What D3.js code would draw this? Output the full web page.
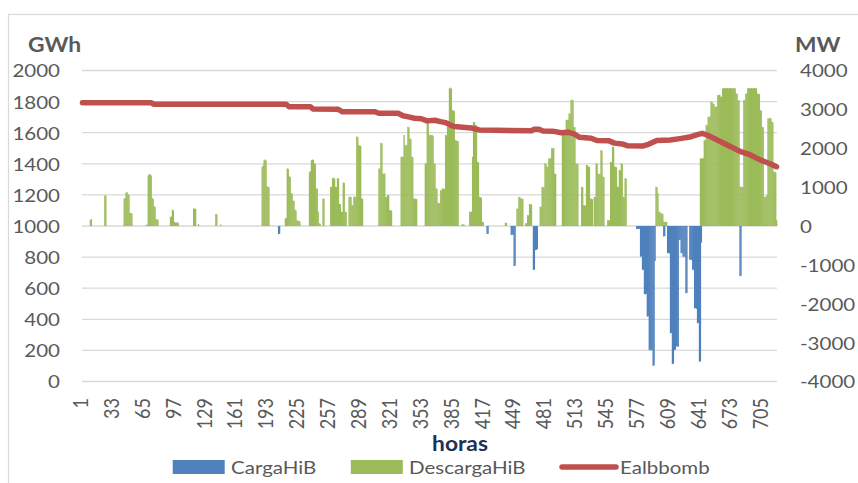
<!DOCTYPE html>
<html>
<head>
<meta charset="utf-8">
<script src="https://cdn.jsdelivr.net/npm/d3@7/dist/d3.min.js"></script>
<style>
  html, body { margin: 0; padding: 0; background: #fff; }
  svg { display: block; font-family: Lato, "Open Sans", sans-serif; }
</style>
</head>
<body>
<script>
// ---- Data -------------------------------------------------------------
// Hourly discharge of hydro pumping (MW), as runs: [first hour, [values for consecutive hours]]
const descargaHiB = [
  [9, [150, 180]],
  [24, [790, 780]],
  [44, [700, 720, 860, 870, 820, 790, 340, 330, 320]],
  [67, [30, 30, 1300, 1330, 1330, 1300, 720, 700, 520, 490, 180, 170, 160]],
  [92, [230, 250, 420, 400, 100, 90, 90, 90, 80]],
  [116, [450, 450, 440]],
  [121, [50]],
  [139, [310, 300]],
  [144, [40]],
  [187, [1520, 1560, 1690, 1710, 1680, 1020, 1010, 1000]],
  [211, [190, 210, 1480, 1470, 1280, 1260, 850, 830, 660, 640, 420, 400, 150, 140, 130, 120]],
  [236, [1390, 1410, 1690, 1710, 1700, 1610, 1600, 970, 960, 370, 70, 60]],
  [250, [710, 700]],
  [258, [1010, 1000, 1230, 1240, 1220, 1010, 1000, 1230, 1220, 565, 560, 370, 360, 1115, 1110, 370, 360]],
  [277, [750, 740, 750, 540, 530, 750, 760, 740, 2300, 2290, 2080, 2070, 2060, 710, 700]],
  [308, [1480, 1470, 2140, 2130, 1350, 1340, 1350, 750, 740, 800, 790, 410, 400, 400]],
  [331, [1780, 1770, 1790, 2340, 2080, 2070, 2090, 2550, 2540, 2250, 2240, 1780, 1770, 710, 700, 700, 690]],
  [356, [1610, 1600, 2680, 2670, 2340, 2350, 2330, 2340, 2320, 1610, 1600, 970, 960, 600, 590, 580,
         925, 920, 970, 960, 950, 2340, 2330, 2550, 2540, 3540, 3560, 3530, 2980, 2970, 2960,
         2210, 2200, 2190, 2180]],
  [394, [40, 40, 40]],
  [402, [370, 360, 370, 1780, 2680, 2670, 2600, 2590, 1650, 1640, 750, 740, 730, 110, 100]],
  [439, [85, 80]],
  [451, [450, 440, 750, 740, 710, 700, 700]],
  [460, [70, 70, 280, 270, 565, 560, 550]],
  [475, [500, 490, 1010, 1000, 990, 1610, 1600, 1530, 1520, 1740, 1730, 1750, 2000, 1990, 2010, 1350, 1340]],
  [498, [2380, 2370, 2390, 2380, 2730, 2720, 2740, 2900, 2890, 3240, 3250, 3230, 2550, 2540, 1610, 1600, 1590]],
  [518, [1010, 1000, 540, 530, 520, 1570, 1560, 1530, 1520, 710, 700, 690]],
  [531, [750, 740, 1610, 1600, 1350, 1340, 1330, 1950, 1940, 1270, 1260]],
  [545, [150, 150, 140, 1650, 1640, 2040, 2030, 1530, 1520, 1510, 1010, 1000, 1440, 1430, 1610, 1600, 750, 740, 1230, 1220]],
  [595, [1010, 1000, 840, 370, 360, 325, 320, 310, 110, 100, 110, 100]],
  [641, [1740, 1730, 1750, 1740, 2210, 2200, 2600, 2590, 2810, 2800, 2820, 3200, 3190, 3150, 3140,
         3070, 3060, 3080, 3370, 3360, 3380, 3330, 3320,
         3540, 3540, 3550, 3540, 3540, 3550, 3540, 3540, 3550, 3540, 3540, 3550, 3540, 3540,
         3410, 3400, 3240, 3230, 1010, 1000, 1010, 1000, 3240, 3230, 3410, 3400,
         3540, 3550, 3540, 3540, 3550, 3540, 3540, 3550, 3540, 3540,
         3410, 3400, 3390, 2980, 2970, 2550, 2540, 750, 740, 760, 800,
         2770, 2760, 2780, 2770, 2680, 2670, 1400, 1390, 1380, 150]]
];

// Hourly charge of hydro pumping (MW, negative), same run layout
const cargaHiB = [
  [204, [-210, -200]],
  [420, [-205, -200]],
  [445, [-230, -220, -230, -1030, -1020]],
  [468, [-1130, -1120, -620, -610, -600]],
  [575, [-80, -70, -80, -70, -790, -780, -1130, -1120, -1750, -1760, -1740, -2330, -2320,
         -3190, -3180, -3200, -3190, -3600, -3580, -900]],
  [603, [-270, -260]],
  [607, [-700, -690, -710, -2760, -2750, -3550, -3540, -3190, -3180, -3100, -3090, -3110,
         -360, -350, -700, -690, -790, -780, -800, -1730, -1720]],
  [630, [-870, -860, -880, -1130, -1120, -2120, -2110, -2130, -2500, -2490, -3490, -3480, -430]],
  [682, [-1290, -1280]]
];

// Stored energy of pumping reservoirs (GWh) at the listed hours
const ealbbombHours = [1, 72, 75, 212, 215, 237, 240, 266, 270, 304, 308, 328, 333, 340, 345, 352, 358,
  366, 372, 377, 382, 386, 395, 404, 412, 430, 466, 469, 474, 478, 488, 497, 504, 510, 516, 528,
  534, 546, 552, 560, 566, 582, 588, 596, 610, 620, 630, 638, 643, 648, 655, 669, 683, 693, 703, 714, 720];
const ealbbombGWh = [1793, 1793, 1783, 1783, 1767, 1767, 1752, 1751, 1735, 1735, 1725, 1725, 1709, 1700,
  1693, 1690, 1676, 1680, 1671, 1665, 1650, 1640, 1635, 1630, 1618, 1615, 1613, 1622, 1622, 1611, 1610,
  1600, 1603, 1592, 1570, 1564, 1550, 1549, 1533, 1528, 1516, 1515, 1527, 1550, 1553, 1562, 1572, 1588,
  1596, 1585, 1564, 1521, 1478, 1457, 1425, 1399, 1381];

const nHours = 720;
const leftTicks = [0, 200, 400, 600, 800, 1000, 1200, 1400, 1600, 1800, 2000];
const rightTicks = [-4000, -3000, -2000, -1000, 0, 1000, 2000, 3000, 4000];
const hourTicks = d3.range(1, nHours + 1, 32);
const seriesNames = ["CargaHiB", "DescargaHiB", "Ealbbomb"];
const colors = { carga: "#4F81BD", descarga: "#9BBB59", line: "#C0504D" };

// ---- Layout -------------------------------------------------------------
const W = 858, H = 483;
const plot = { left: 82, right: 777, top: 70.5, bottom: 381.5 };
const textGray = "#595959";
const sx = 1.14; // horizontal widening of the label type

const svg = d3.select("body").append("svg").attr("width", W).attr("height", H);

// outer chart frame
svg.append("rect").attr("x", 8.5).attr("y", 14.5).attr("width", W).attr("height", H)
  .attr("fill", "none").attr("stroke", "#d9d9d9").attr("stroke-width", 1.2);

const hours = d3.range(1, nHours + 1);
const x = d3.scaleBand().domain(hours).range([plot.left, plot.right]).padding(0);
const yL = d3.scaleLinear().domain([0, 2000]).range([plot.bottom, plot.top]);
const yR = d3.scaleLinear().domain([-4000, 4000]).range([plot.bottom, plot.top]);

function expand(runs) {
  const out = [];
  runs.forEach(([start, vals]) => vals.forEach((v, i) => out.push({ h: start + i, v })));
  return out;
}

// gridlines from the left axis
svg.append("g").selectAll("line").data(leftTicks).join("line")
  .attr("x1", plot.left).attr("x2", plot.right)
  .attr("y1", d => yL(d)).attr("y2", d => yL(d))
  .attr("stroke", "#d9d9d9").attr("stroke-width", 1.3);

// helper for horizontally widened text
function label(g, txt, px, py, anchor, opts = {}) {
  const t = g.append("text")
    .attr("transform", `translate(${px},${py}) scale(${sx},1)`)
    .attr("text-anchor", anchor)
    .attr("dominant-baseline", "central")
    .attr("font-size", opts.size || 18)
    .attr("font-weight", opts.weight || 400)
    .attr("fill", opts.fill || textGray)
    .text(txt);
  return t;
}

// left axis labels
const gL = svg.append("g");
leftTicks.forEach(v => label(gL, v, 60, yL(v), "end"));
// right axis labels
const gR = svg.append("g");
rightTicks.forEach(v => label(gR, v, 800, yR(v), "start"));

// axis titles
label(svg, "GWh", 28, 45, "start", { size: 20, weight: 700 });
label(svg, "MW", 795, 45, "start", { size: 20, weight: 700 });

// bars
const bw = x.bandwidth();
const barsG = svg.append("g");
barsG.selectAll("rect.d").data(expand(descargaHiB)).join("rect").attr("class", "d")
  .attr("x", d => x(d.h)).attr("width", bw + 0.35)
  .attr("y", d => yR(d.v)).attr("height", d => yR(0) - yR(d.v))
  .attr("fill", colors.descarga);
barsG.selectAll("rect.c").data(expand(cargaHiB)).join("rect").attr("class", "c")
  .attr("x", d => x(d.h)).attr("width", bw + 0.35)
  .attr("y", yR(0)).attr("height", d => yR(d.v) - yR(0))
  .attr("fill", colors.carga);

// stored-energy line
const linePts = ealbbombHours.map((h, i) => ({ h, v: ealbbombGWh[i] }));
svg.append("path").datum(linePts)
  .attr("d", d3.line().x(d => x(d.h) + bw / 2).y(d => yL(d.v)))
  .attr("fill", "none").attr("stroke", colors.line).attr("stroke-width", 5.5)
  .attr("stroke-linejoin", "round").attr("stroke-linecap", "round");

// hour labels, rotated
const gX = svg.append("g");
hourTicks.forEach(h => {
  gX.append("text")
    .attr("transform", `translate(${x(h) + bw / 2 - 2.5},398) scale(${sx},1) rotate(-90)`)
    .attr("text-anchor", "end").attr("dominant-baseline", "central")
    .attr("font-size", 18).attr("fill", textGray).text(h);
});

// x title
label(svg, "horas", 460, 443.5, "middle", { size: 20, weight: 700, fill: "#1F3057" });

// legend
const legY = 467;
const gLeg = svg.append("g");
gLeg.append("rect").attr("x", 172.7).attr("y", legY - 7).attr("width", 52).attr("height", 14).attr("fill", colors.carga);
label(gLeg, seriesNames[0], 231, legY, "start");
gLeg.append("rect").attr("x", 350.8).attr("y", legY - 7).attr("width", 52).attr("height", 14).attr("fill", colors.descarga);
label(gLeg, seriesNames[1], 409, legY, "start");
gLeg.append("line").attr("x1", 562).attr("x2", 616).attr("y1", legY).attr("y2", legY)
  .attr("stroke", colors.line).attr("stroke-width", 5.5).attr("stroke-linecap", "round");
label(gLeg, seriesNames[2], 620, legY, "start");
</script>
</body>
</html>
